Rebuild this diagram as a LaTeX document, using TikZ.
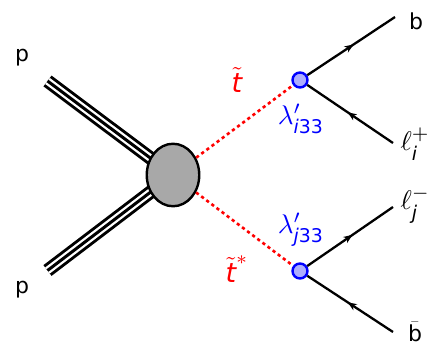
\documentclass[tikz,border=0pt]{standalone}
\usepackage{amsmath}
\usepackage{fontspec}
\setmainfont{DejaVu Sans}
\usetikzlibrary{shapes.geometric,decorations.markings,arrows.meta}

\tikzset{
  proton/.style={line width=13.5pt, draw=black,
    postaction={draw=white, line width=7.6pt},
    postaction={draw=black, line width=3pt}},
  fermion/.style={line width=2.3pt, postaction={decorate},
    decoration={markings, mark=at position 0.53 with {\arrow{Stealth[length=9pt,width=7pt,inset=2.5pt]}}}},
  sfermion/.style={red, line width=2.6pt, dash pattern=on 3.2pt off 3.2pt},
  blob/.style={ellipse, draw, line width=2.4pt, fill=gray!68, inner sep=0pt,
    minimum width=52.5pt, minimum height=62.5pt},
  vtx/.style={circle, draw=blue, fill=blue!32, line width=2.4pt, inner sep=0pt,
    minimum size=15pt},
  lbl/.style={font=\fontsize{22}{26}\selectfont, inner sep=0pt},
  mlbl/.style={scale=2.7, inner sep=0pt}
}

\begin{document}
\begin{tikzpicture}[x=1pt,y=-1pt]

\useasboundingbox (0,0) rectangle (429,348);

% incoming protons
\coordinate (c) at (173,175);
\coordinate (p1) at (47.5,81);
\coordinate (p2) at (47.5,270.5);
\draw[proton] (p1) -- (c);
\draw[proton] (p2) -- (c);
\node[lbl] (p1lbl) at (22,58) {p};
\node[lbl] (p2lbl) at (22,290) {p};

\node[blob] (blob) at (c) {};

% stop vertices
\node[vtx] (v1) at (300,80) {};
\node[vtx] (v2) at (300,271) {};
\draw[sfermion] (blob) -- (v1);
\draw[sfermion] (blob) -- (v2);
\node[mlbl, red] (st) at (237,80) {$\tilde{\textit{t}}$};
\node[mlbl, red] (stb) at (237,269) {$\tilde{\textit{t}}^{*}$};
\node[mlbl, blue] (lam1) at (301,119) {$\lambda'_{\textit{i}\text{33}}$};
\node[mlbl, blue] (lam2) at (301,230) {$\lambda'_{\textit{j}\text{33}}$};

% outgoing fermions
\coordinate (f1) at (395,17);
\coordinate (f2) at (393,143);
\coordinate (f3) at (393,207);
\coordinate (f4) at (393,332);
\draw[fermion] (v1) -- (f1);
\draw[fermion] (f2) -- (v1);
\draw[fermion] (v2) -- (f3);
\draw[fermion] (f4) -- (v2);
\node[lbl] (b) at (416,21) {b};
\node[mlbl, anchor=west] (lp) at (400,144) {$\ell_{\textit{i}}^{+}$};
\node[mlbl, anchor=west] (lm) at (400,205) {$\ell_{\textit{j}}^{-}$};
\node[lbl] (bb) at (415,332) {$\bar{\text{b}}$};

\end{tikzpicture}
\end{document}
